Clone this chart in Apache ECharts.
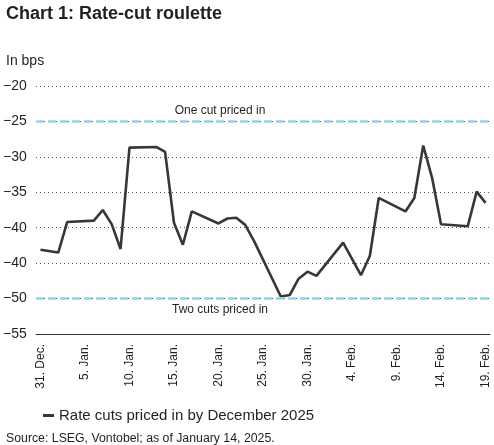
<!DOCTYPE html>
<html>
<head>
<meta charset="utf-8">
<script src="https://cdn.jsdelivr.net/npm/echarts@6/dist/echarts.min.js"></script>
<style>
  html, body { margin: 0; padding: 0; background: #fff; }
  #main { width: 494px; height: 445px; }
</style>
</head>
<body>
<div id="main"></div>
<script>
// trading days and rate cuts priced in (bps)
var tradingDays = [
    '2024-12-31', '2025-01-02', '2025-01-03', '2025-01-06', '2025-01-07', '2025-01-08',
    '2025-01-09', '2025-01-10', '2025-01-13', '2025-01-14', '2025-01-15', '2025-01-16',
    '2025-01-17', '2025-01-20', '2025-01-21', '2025-01-22', '2025-01-23', '2025-01-24',
    '2025-01-27', '2025-01-28', '2025-01-29', '2025-01-30', '2025-01-31', '2025-02-03',
    '2025-02-04', '2025-02-05', '2025-02-06', '2025-02-07', '2025-02-10', '2025-02-11',
    '2025-02-12', '2025-02-13', '2025-02-14', '2025-02-17', '2025-02-18', '2025-02-19'
];
var cutsPriced = [
    -43.1, -43.5, -39.2, -39.0, -37.5, -39.5,
    -43.0, -28.7, -28.6, -29.3, -39.3, -42.4,
    -37.7, -39.4, -38.7, -38.6, -39.6, -41.9,
    -49.7, -49.5, -47.2, -46.2, -46.8, -42.1,
    -44.4, -46.7, -44.0, -35.8, -37.7, -35.8,
    -28.4, -33.0, -39.5, -39.8, -34.9, -36.5
];
var firstDay = '2024-12-31';
var lastDay = '2025-02-19';
var monthNames = ['Jan.', 'Feb.', 'Mar.', 'Apr.', 'May', 'Jun.', 'Jul.', 'Aug.', 'Sep.', 'Oct.', 'Nov.', 'Dec.'];
var yTicks = [-55, -50, -45, -40, -35, -30, -25, -20];
var yTickLabels = ['\u221255', '\u221250', '\u221240', '\u221240', '\u221235', '\u221230', '\u221225', '\u221220'];
var refLines = [-25, -50];
var refLabels = ['One cut priced in', 'Two cuts priced in'];
var seriesName = 'Rate cuts priced in by December 2025';

(function () {
    'use strict';

    var font = '"Liberation Sans", Arial, sans-serif';
    var ink = '#231f1c';

    // calendar axis, non-trading days left empty
    var categories = [];
    var values = [];
    var d = new Date(firstDay + 'T00:00:00Z');
    var end = new Date(lastDay + 'T00:00:00Z');
    while (d <= end) {
        var iso = d.toISOString().slice(0, 10);
        categories.push(d.getUTCDate() + '. ' + monthNames[d.getUTCMonth()]);
        var idx = tradingDays.indexOf(iso);
        values.push(idx >= 0 ? cutsPriced[idx] : null);
        d.setUTCDate(d.getUTCDate() + 1);
    }

    var myChart = echarts.init(document.getElementById('main'));

    var option = {
        backgroundColor: '#fff',
        animation: false,
        textStyle: { fontFamily: font },
        title: [{
            text: 'Chart 1: Rate-cut roulette',
            left: 1,
            top: 0,
            textStyle: { fontSize: 18, fontWeight: 'bold', color: ink, fontFamily: font }
        }, {
            text: 'In bps',
            left: 1,
            top: 49,
            textStyle: { fontSize: 14, fontWeight: 'normal', color: ink, fontFamily: font }
        }, {
            text: 'Source: LSEG, Vontobel; as of January 14, 2025.',
            left: 1,
            top: 428,
            textStyle: { fontSize: 12.3, fontWeight: 'normal', color: ink, fontFamily: font }
        }],
        legend: {
            left: 38,
            top: 403,
            icon: 'rect',
            itemWidth: 11,
            itemHeight: 3,
            itemGap: 6,
            textStyle: { fontSize: 15, color: ink, fontFamily: font },
            data: [seriesName]
        },
        grid: { left: 35, right: 4, top: 86, bottom: 111 },
        xAxis: {
            type: 'category',
            data: categories,
            boundaryGap: true,
            axisLine: { lineStyle: { color: '#333', width: 1 } },
            axisTick: { show: false },
            axisLabel: {
                interval: 4,
                rotate: 90,
                margin: 10,
                fontSize: 12,
                color: ink,
                fontFamily: font
            }
        },
        yAxis: {
            type: 'value',
            min: -55,
            max: -20,
            interval: 5,
            axisLine: { show: false },
            axisTick: { show: false },
            axisLabel: {
                align: 'left',
                margin: 33,
                fontSize: 14,
                color: ink,
                fontFamily: font,
                formatter: function (v) {
                    var i = yTicks.indexOf(v);
                    return i >= 0 ? yTickLabels[i] : '';
                }
            },
            splitLine: { lineStyle: { type: [1, 3], color: '#555', width: 1 } }
        },
        series: [{
            name: seriesName,
            type: 'line',
            data: values,
            connectNulls: true,
            symbol: 'none',
            lineStyle: { color: '#3a3633', width: 2.6 },
            itemStyle: { color: '#3a3633' },
            markLine: {
                silent: true,
                symbol: 'none',
                lineStyle: { type: [8, 4], color: '#8fd5e8', width: 2.5 },
                data: refLines.map(function (v, i) {
                    return {
                        yAxis: v,
                        label: {
                            show: true,
                            formatter: refLabels[i],
                            position: i === 0 ? 'insideMiddleTop' : 'insideMiddleBottom',
                            offset: [-43, 0],
                            fontSize: 12,
                            color: ink,
                            fontFamily: font
                        }
                    };
                })
            }
        }]
    };

    myChart.setOption(option);
})();
</script>
</body>
</html>
